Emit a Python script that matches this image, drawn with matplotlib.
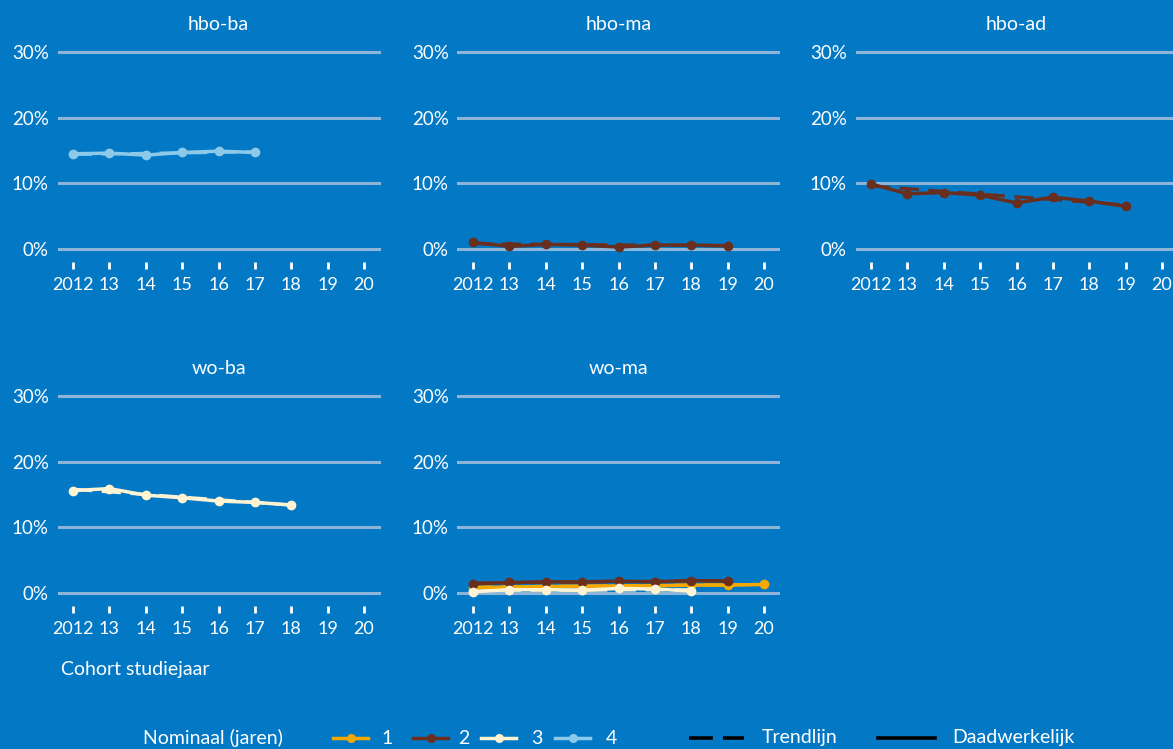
import matplotlib
matplotlib.use("Agg")
import matplotlib.pyplot as plt
from matplotlib.lines import Line2D

plt.rcParams['font.family'] = ['Lato', 'DejaVu Sans']

BG = '#0379C6'
GRID = '#8DB6D6'
WHITE = '#FFFFFF'
COLORS = {1: '#F5A900', 2: '#6A2E1F', 3: '#FFF3D2', 4: '#8DCAEA'}

years = [2012, 2013, 2014, 2015, 2016, 2017, 2018, 2019, 2020]
xtick_labels = ['2012', '13', '14', '15', '16', '17', '18', '19', '20']
yticks = [0, 10, 20, 30]
ytick_labels = ['0%', '10%', '20%', '30%']

panels = ['hbo-ba', 'hbo-ma', 'hbo-ad', 'wo-ba', 'wo-ma']

# actual values (percent) per panel and nominal duration
hbo_ba_4 = [14.5, 14.6, 14.3, 14.7, 14.9, 14.7]
hbo_ma_2 = [1.0, 0.4, 0.7, 0.6, 0.3, 0.6, 0.6, 0.5]
hbo_ad_2 = [9.9, 8.4, 8.6, 8.2, 7.0, 7.9, 7.3, 6.5]
wo_ba_3 = [15.6, 15.9, 14.9, 14.5, 14.0, 13.8, 13.4]
wo_ma_1 = [0.8, 0.9, 1.0, 1.0, 1.1, 1.1, 1.2, 1.2, 1.3]
wo_ma_2 = [1.4, 1.6, 1.7, 1.7, 1.8, 1.7, 1.9, 1.8]
wo_ma_3 = [0.2, 0.5, 0.5, 0.4, 0.7, 0.6, 0.3]
wo_ma_4 = [0.4, 0.5, 0.6, 0.5, 0.8, 0.7]

# trend line start / end values
hbo_ba_4_trend = [14.4, 14.8]
hbo_ma_2_trend = [0.8, 0.5]
hbo_ad_2_trend = [9.6, 6.7]
wo_ba_3_trend = [15.8, 13.4]
wo_ma_1_trend = [0.9, 1.3]
wo_ma_2_trend = [1.5, 1.9]
wo_ma_3_trend = [0.4, 0.5]
wo_ma_4_trend = [0.4, 0.8]

series = {
    'hbo-ba': [(4, hbo_ba_4, hbo_ba_4_trend)],
    'hbo-ma': [(2, hbo_ma_2, hbo_ma_2_trend)],
    'hbo-ad': [(2, hbo_ad_2, hbo_ad_2_trend)],
    'wo-ba': [(3, wo_ba_3, wo_ba_3_trend)],
    'wo-ma': [(4, wo_ma_4, wo_ma_4_trend), (1, wo_ma_1, wo_ma_1_trend),
              (2, wo_ma_2, wo_ma_2_trend), (3, wo_ma_3, wo_ma_3_trend)],
}

W, H = 1173, 749
fig = plt.figure(figsize=(W / 100, H / 100), dpi=100)
fig.patch.set_facecolor(BG)

lefts = [58.5, 458.5, 856.5]
tops_px = [52, 396]
bottoms_px = [249, 593]
width_px = 320

positions = [(0, 0), (1, 0), (2, 0), (0, 1), (1, 1)]

for name, (col, row) in zip(panels, positions):
    l = lefts[col] / W
    b = 1 - bottoms_px[row] / H
    h = (bottoms_px[row] - tops_px[row]) / H
    ax = fig.add_axes([l, b, width_px / W, h])
    ax.set_facecolor(BG)
    ax.patch.set_alpha(0)
    ax.set_xlim(2011.6, 2020.4)
    ax.set_ylim(0, 30)
    for v in yticks:
        ax.axhline(v, color=GRID, lw=2.2, zorder=1, clip_on=False)
    for s in ax.spines.values():
        s.set_visible(False)
    ax.spines['bottom'].set_position(('outward', 9))
    ax.set_xticks(years)
    ax.set_xticklabels(xtick_labels)
    ax.set_yticks(yticks)
    ax.set_yticklabels(ytick_labels)
    ax.tick_params(axis='x', colors=WHITE, length=5, width=2, direction='out',
                   pad=6, labelsize=13)
    ax.tick_params(axis='y', colors=WHITE, length=0, pad=7, labelsize=13.5)
    for lab in ax.get_xticklabels() + ax.get_yticklabels():
        lab.set_color(WHITE)
    ax.set_title(name, color=WHITE, fontsize=14, pad=16)

    for nom, vals, trend in series[name]:
        xs = years[:len(vals)]
        c = COLORS[nom]
        ax.plot([xs[0], xs[-1]], trend, color=c, lw=2.3, ls=(0, (6, 3)),
                zorder=3, clip_on=False)
        ax.plot(xs, vals, color=c, lw=2.5, marker='o', ms=7,
                markeredgewidth=0, zorder=4, clip_on=False)

FS = 14
fig.text(61 / W, 1 - 669 / H, 'Cohort studiejaar', color=WHITE, fontsize=FS,
         va='center', ha='left')

# legend
ly = 1 - 738 / H
fig.text(143 / W, ly, 'Nominaal (jaren)', color=WHITE, fontsize=FS,
         va='center', ha='left')
leg_x = [(333, 368, 381), (413, 448, 458), (481, 516, 531), (555, 590, 606)]
for nom, (x0, x1, xt) in zip([1, 2, 3, 4], leg_x):
    fig.add_artist(Line2D([x0 / W, x1 / W], [ly, ly], color=COLORS[nom], lw=2.5,
                          transform=fig.transFigure))
    fig.add_artist(Line2D([(x0 + x1) / 2 / W], [ly], color=COLORS[nom], marker='o',
                          ms=6.5, markeredgewidth=0, transform=fig.transFigure))
    fig.text(xt / W, ly, str(nom), color=WHITE, fontsize=FS, va='center', ha='left')

fig.add_artist(Line2D([689 / W, 744 / W], [ly, ly], color='black', lw=2.6,
                      ls=(0, (6.6, 2.8)), transform=fig.transFigure))
fig.text(762 / W, ly, 'Trendlijn', color=WHITE, fontsize=FS, va='center', ha='left')
fig.add_artist(Line2D([878 / W, 935 / W], [ly, ly], color='black', lw=2.6,
                      transform=fig.transFigure))
fig.text(952 / W, ly, 'Daadwerkelijk', color=WHITE, fontsize=FS, va='center', ha='left')

fig.savefig('out.png', dpi=100, facecolor=BG)
